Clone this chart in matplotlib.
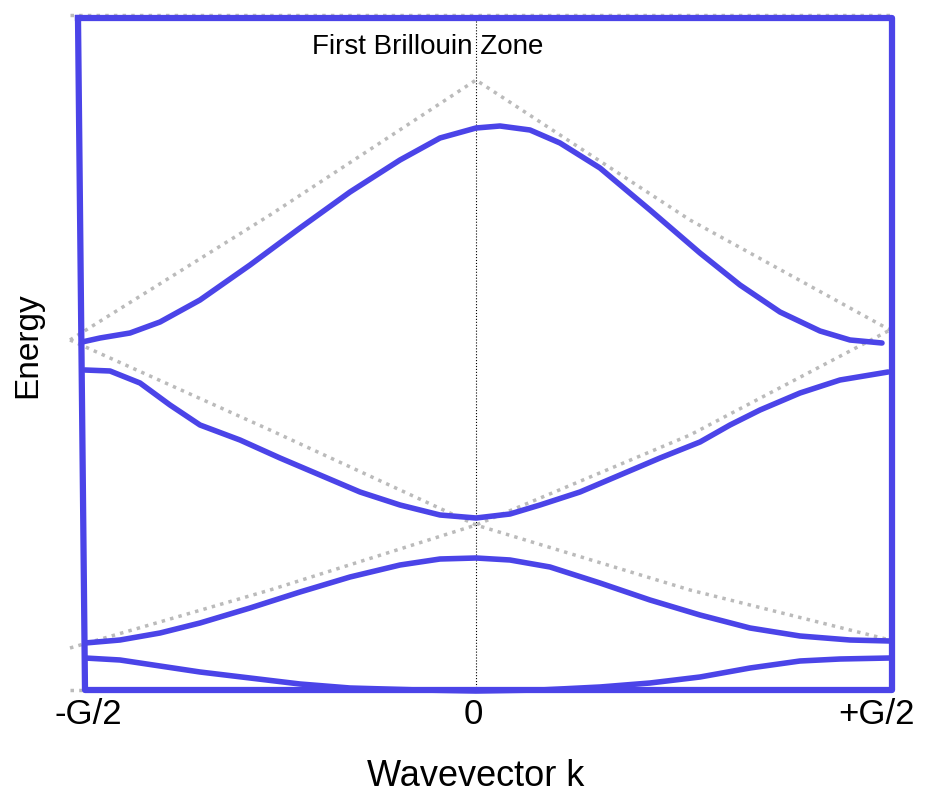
import matplotlib
matplotlib.use("Agg")
import matplotlib.pyplot as plt
plt.rcParams['font.family'] = ['Liberation Sans', 'DejaVu Sans']

blue = "#4b44e8"
band1_x = [82,100,130,160,200,250,300,350,400,440,476,500,530,560,600,650,700,740,780,820,850,882]
band1_y = [342,338,333,322,300,265,228,192,160,138,128,126,130,143,168,210,253,285,312,331,340,343]
band2_x = [85,110,140,170,200,240,280,320,360,400,440,476,510,540,580,620,660,700,730,760,800,840,888]
band2_y = [370,371,383,405,425,440,458,475,492,505,515,518,514,505,492,475,458,442,425,410,393,380,372]
band3_x = [85,120,160,200,250,300,350,400,440,476,510,550,600,650,700,750,800,850,890]
band3_y = [643,640,633,623,608,592,577,565,559,558,560,567,583,600,615,628,636,640,641]
band4_x = [85,120,160,200,250,300,350,420,476,540,600,650,700,750,800,840,890]
band4_y = [658,660,666,672,678,684,688,690,691,690,687,683,677,668,661,659,658]
free = [([70,270,476,690,890],[648,590,525,435,330]),
        ([70,270,476,690,890],[340,215,80,220,330]),
        ([70,270,476,690,890],[340,430,525,590,640]),
        ([70,890],[690,690]),
        ([70,890],[15,15])]
box_x = [78,85,892,892,78]
box_y = [18,690,690,18,18]
tick_pos = [88,473,876]
tick_lab = ["-G/2","0","+G/2"]

fig = plt.figure(figsize=(9.38,7.98), dpi=100)
ax = fig.add_axes([0,0,1,1])
ax.set_xlim(0,938); ax.set_ylim(798,0); ax.axis("off")
for fx, fy in free:
    ax.plot(fx, fy, color="#bbbbbb", ls=(0,(1,1.5)), lw=2.5, zorder=1)
ax.plot([476,476],[18,690], color="black", ls=":", lw=0.8, zorder=1)
for bx, by in [(band1_x,band1_y),(band2_x,band2_y),(band3_x,band3_y),(band4_x,band4_y)]:
    ax.plot(bx, by, color=blue, lw=4, solid_capstyle="round", solid_joinstyle="round", zorder=3)
ax.plot(box_x, box_y, color=blue, lw=4.5, zorder=4)
ax.text(428,47,"First Brillouin Zone", fontsize=20, ha="center", va="center")
for p, l in zip(tick_pos, tick_lab):
    ax.text(p,714,l, fontsize=25, ha="center", va="center")
ax.text(476,777,"Wavevector k", fontsize=26, ha="center", va="center")
ax.text(28,345,"Energy", fontsize=24, rotation=90, ha="center", va="center")
fig.savefig("out.png", dpi=100)
